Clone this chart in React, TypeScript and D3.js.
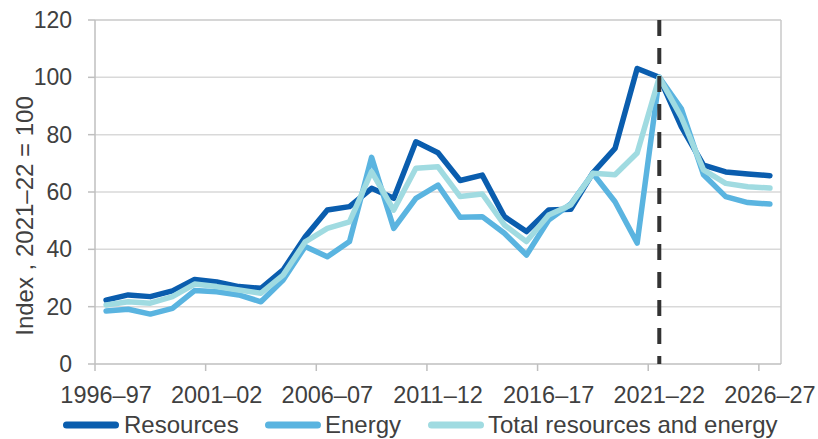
import React from "react";
import * as d3 from "d3";

const categories = [
  "1996–97","1997–98","1998–99","1999–00","2000–01","2001–02","2002–03","2003–04",
  "2004–05","2005–06","2006–07","2007–08","2008–09","2009–10","2010–11","2011–12",
  "2012–13","2013–14","2014–15","2015–16","2016–17","2017–18","2018–19","2019–20",
  "2020–21","2021–22","2022–23","2023–24","2024–25","2025–26","2026–27",
];

const resources = [22.3, 24.1, 23.5, 25.5, 29.5, 28.6, 27, 26.4, 32.8, 44.4, 53.7, 54.9, 61.3, 57.8, 77.5, 73.7, 64, 65.9, 51.4, 46.2, 53.7, 54, 66.7, 75.2, 103.1, 100, 82.7, 69.4, 67, 66.3, 65.7];
const energy = [18.5, 19.1, 17.4, 19.4, 25.6, 25.2, 24.1, 21.7, 29.3, 41, 37.4, 42.7, 72.1, 47.3, 57.8, 62.4, 51.2, 51.4, 45.6, 38, 50.2, 55.8, 66.5, 56.6, 42.2, 100, 89, 66, 58.4, 56.3, 55.8];
const total = [20.6, 21.7, 21.2, 23.5, 27.9, 27, 25.8, 24.7, 31, 42.6, 47.3, 49.6, 67.1, 53.7, 68.3, 68.8, 58.4, 59.3, 48.5, 42.7, 52, 55.5, 66.5, 66, 73.6, 100, 86, 67.7, 63, 61.8, 61.4];

const seriesNames = ["Resources", "Energy", "Total resources and energy"];
const seriesColors = ["#0a5dae", "#5ab4e0", "#a0dbe1"];
const seriesValues = [resources, energy, total];

const yTicks = [0, 20, 40, 60, 80, 100, 120];
const xTickLabels = ["1996–97", "2001–02", "2006–07", "2011–12", "2016–17", "2021–22", "2026–27"];
const markerCategory = "2021–22";
const yTitle = "Index , 2021–22 = 100";

const W = 818, H = 439;
const L = 95, R = 781, T = 20, B = 364;
const FONT = "'Liberation Sans', Arial, sans-serif";
const TEXT = "#404040";

export default function App() {
  const x = d3.scaleBand<string>().domain(categories).range([L, R]).padding(0);
  const cx = (c: string) => (x(c) as number) + x.bandwidth() / 2;
  const y = d3.scaleLinear().domain([0, 120]).range([B, T]);
  const line = d3
    .line<number>()
    .x((_, i) => cx(categories[i]))
    .y((v) => y(v));

  const tickIdx = xTickLabels.map((l) => categories.indexOf(l));
  const legendLineX = [63, 265, 428];
  const legendTextX = [124, 325, 488];

  return (
    <svg width={W} height={H} style={{ position: "absolute", left: 0, top: 0, background: "#fff" }} fontFamily={FONT}>
      {yTicks.filter((t) => t > 0).map((t) => (
        <line key={t} x1={L} x2={R} y1={y(t)} y2={y(t)} stroke={t === 120 ? "#c8c8c8" : "#d9d9d9"} strokeWidth={1.5} />
      ))}
      <line x1={R} x2={R} y1={T} y2={B} stroke="#c8c8c8" strokeWidth={1.5} />
      <line x1={L} x2={L} y1={T} y2={B} stroke="#bfbfbf" strokeWidth={1.5} />
      <line x1={L} x2={R} y1={B} y2={B} stroke="#bfbfbf" strokeWidth={1.5} />
      {yTicks.map((t) => (
        <g key={t}>
          <line x1={L - 7} x2={L} y1={y(t)} y2={y(t)} stroke="#bfbfbf" strokeWidth={1.5} />
          <text x={72} y={y(t)} dy="0.35em" textAnchor="end" fontSize={23} fill={TEXT}>{t}</text>
        </g>
      ))}
      {tickIdx.map((i) => (
        <g key={i}>
          <line x1={x(categories[i]) as number} x2={x(categories[i]) as number} y1={B} y2={B + 7} stroke="#bfbfbf" strokeWidth={1.5} />
          <text x={cx(categories[i])} y={403} textAnchor="middle" fontSize={23.5} fill={TEXT}>{categories[i]}</text>
        </g>
      ))}
      <text transform={`translate(33,216) rotate(-90)`} textAnchor="middle" fontSize={24} fill={TEXT}>{yTitle}</text>
      {seriesValues.map((vals, s) => (
        <path key={s} d={line(vals) as string} fill="none" stroke={seriesColors[s]} strokeWidth={5.5} strokeLinejoin="round" strokeLinecap="round" />
      ))}
      <line x1={cx(markerCategory)} x2={cx(markerCategory)} y1={T} y2={B} stroke="#333333" strokeWidth={4} strokeDasharray="16 12" />
      {seriesNames.map((n, s) => (
        <g key={n}>
          <line x1={legendLineX[s] + 3.5} x2={legendLineX[s] + 52.5} y1={425} y2={425} stroke={seriesColors[s]} strokeWidth={7} strokeLinecap="round" />
          <text x={legendTextX[s]} y={433} fontSize={24} fill={TEXT}>{n}</text>
        </g>
      ))}
    </svg>
  );
}
